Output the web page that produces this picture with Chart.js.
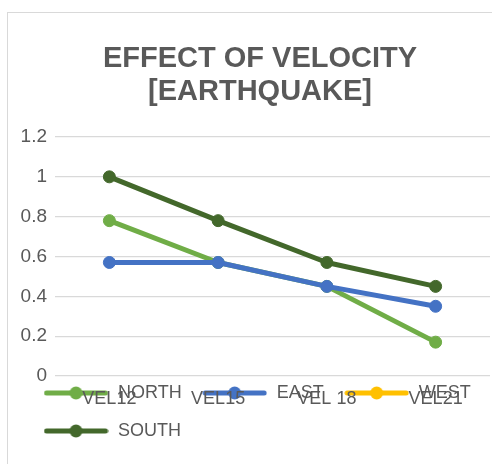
<!DOCTYPE html>
<html><head><meta charset="utf-8">
<script src="https://cdn.jsdelivr.net/npm/chart.js@4.4.1/dist/chart.umd.min.js"></script>
<style>
html,body{margin:0;padding:0;overflow:hidden;background:#fff;width:492px;height:464px;}
#frame{position:absolute;left:7px;top:12px;width:520px;height:470px;border:1px solid #d9d9d9;box-sizing:border-box;}
#wrap{position:absolute;left:0;top:0;width:497px;height:464px;}
</style></head><body>
<div id="frame"></div>
<div id="wrap"><canvas id="c"></canvas></div>
<script>
const categories = ['VEL12', 'VEL15', 'VEL 18', 'VEL21'];
const seriesNames = ['NORTH', 'EAST', 'WEST', 'SOUTH'];
const northValues = [0.78, 0.57, 0.45, 0.17];
const eastValues = [0.57, 0.57, 0.45, 0.35];
const westValues = [null, null, null, null];
const southValues = [1.0, 0.78, 0.57, 0.45];
const yTickLabels = ['0', '0.2', '0.4', '0.6', '0.8', '1', '1.2'];
const titleLines = ['EFFECT OF VELOCITY', '[EARTHQUAKE]'];

const colors = ['#70AD47', '#4472C4', '#FFC000', '#43682B'];
const seriesValues = [northValues, eastValues, westValues, southValues];
const FONT = "'Liberation Sans', Arial, sans-serif";
const TXT = '#595959';

function legendSymbol(color) {
  const cv = document.createElement('canvas');
  cv.width = 65; cv.height = 14;
  const g = cv.getContext('2d');
  g.strokeStyle = color; g.lineWidth = 5; g.lineCap = 'round';
  g.beginPath(); g.moveTo(3, 7); g.lineTo(62, 7); g.stroke();
  g.fillStyle = color;
  g.beginPath(); g.arc(32.5, 7, 6.5, 0, Math.PI * 2); g.fill();
  return cv;
}
const symbols = colors.map(legendSymbol);

const datasets = seriesNames.map((name, i) => ({
  label: name,
  data: seriesValues[i],
  borderColor: colors[i],
  backgroundColor: colors[i],
  pointBackgroundColor: colors[i],
  pointBorderColor: colors[i],
  borderWidth: 5,
  pointRadius: 6,
  pointBorderWidth: 1,
  pointHoverRadius: 6,
  tension: 0,
  borderCapStyle: 'round',
  borderJoinStyle: 'round',
  order: seriesNames.length - 1 - i,
  fill: false
}));

const noClip = (s) => { s._computeLabelArea = () => undefined; };

new Chart(document.getElementById('c'), {
  type: 'line',
  data: { labels: categories, datasets },
  options: {
    responsive: true,
    maintainAspectRatio: false,
    animation: false,
    devicePixelRatio: 1,
    layout: { padding: { left: 23, right: 0, top: 13, bottom: 2 } },
    plugins: {
      tooltip: { enabled: false },
      title: {
        display: true,
        text: titleLines,
        color: TXT,
        font: { family: FONT, size: 29, weight: 'bold', lineHeight: 33 / 29 },
        padding: { top: 29, bottom: 29 }
      },
      legend: {
        position: 'bottom',
        align: 'start',
        labels: {
          usePointStyle: true,
          pointStyleWidth: 66,
          padding: 20,
          color: TXT,
          font: { family: FONT, size: 18 },
          generateLabels: (chart) => chart.data.datasets.map((ds, i) => ({
            text: ds.label,
            fillStyle: ds.borderColor,
            strokeStyle: ds.borderColor,
            fontColor: TXT,
            lineWidth: 0,
            pointStyle: symbols[i],
            hidden: false,
            datasetIndex: i
          }))
        }
      }
    },
    scales: {
      x: {
        type: 'category',
        offset: true,
        grid: { display: false },
        border: { display: false },
        ticks: { color: TXT, font: { family: FONT, size: 18 }, padding: 4, maxRotation: 0, autoSkip: false },
        afterFit: (s) => { s.height = -12; noClip(s); }
      },
      y: {
        min: 0,
        max: 1.2,
        grid: { color: '#d9d9d9', lineWidth: 1.3, drawTicks: false },
        border: { display: false },
        ticks: {
          stepSize: 0.2,
          color: TXT,
          font: { family: FONT, size: 19 },
          padding: 8,
          callback: (v, i) => yTickLabels[i]
        },
        afterFit: (s) => { s.width = 32; noClip(s); }
      },
      y2: {
        position: 'right',
        min: 0,
        max: 1,
        grid: { display: false },
        border: { display: false },
        ticks: { display: false },
        afterFit: (s) => { s.width = 5.5; }
      }
    }
  }
});
</script>
</body></html>
